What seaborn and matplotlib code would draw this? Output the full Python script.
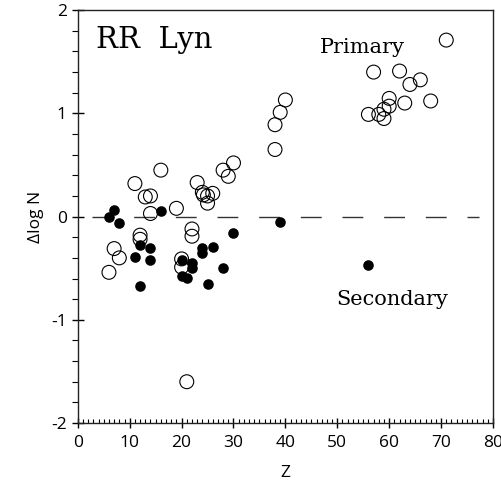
import numpy as np
import pandas as pd
import matplotlib
matplotlib.use("Agg")
import matplotlib.pyplot as plt
from matplotlib.ticker import MultipleLocator
import seaborn as sns

# primary (open circles)
z_prim = [6, 7, 8, 11, 12, 12, 13, 14, 14, 16, 19, 20, 20, 21, 22, 22,
          23, 24, 24.2, 25, 26, 25, 28, 29, 30, 38, 38, 39, 40,
          56, 57, 58, 59, 59, 60, 60, 62, 63, 64, 66, 68, 71]
d_prim = [-0.54, -0.31, -0.40, 0.32, -0.18, -0.22, 0.19, 0.20, 0.03, 0.45, 0.08, -0.41, -0.49, -1.60, -0.12, -0.19,
          0.33, 0.235, 0.21, 0.20, 0.225, 0.13, 0.45, 0.39, 0.52, 0.65, 0.89, 1.01, 1.13,
          0.99, 1.40, 0.99, 1.04, 0.95, 1.07, 1.145, 1.41, 1.10, 1.28, 1.325, 1.12, 1.71]

# secondary (filled circles)
z_sec = [6, 7, 8, 11, 12, 12, 14, 14, 16, 20, 20, 21, 22, 22, 24, 24, 25, 26, 28, 30, 39, 56]
d_sec = [0.0, 0.06, -0.065, -0.39, -0.28, -0.675, -0.305, -0.42, 0.05, -0.42, -0.58, -0.595,
         -0.45, -0.50, -0.30, -0.35, -0.65, -0.29, -0.50, -0.155, -0.05, -0.47]

prim = pd.DataFrame({"Z": z_prim, "dlogN": d_prim})
sec = pd.DataFrame({"Z": z_sec, "dlogN": d_sec})

sns.set_style("ticks")
plt.rcParams["font.family"] = ["Open Sans", "DejaVu Sans"]
plt.rcParams["axes.unicode_minus"] = False
plt.rcParams["text.color"] = "black"
plt.rcParams["axes.labelcolor"] = "black"
plt.rcParams["xtick.color"] = "black"
plt.rcParams["ytick.color"] = "black"

fig = plt.figure(figsize=(5.02, 4.84), dpi=100)
ax = fig.add_axes([0.155, 0.126, 0.827, 0.853])

ax.hlines(0, 2.75, 77.3, colors="#333333", linewidth=1.0, linestyles=(0, (15, 15)))

sns.scatterplot(data=prim, x="Z", y="dlogN", ax=ax, s=100, facecolor="none",
                edgecolor="black", linewidth=0.8, zorder=3)
sns.scatterplot(data=sec, x="Z", y="dlogN", ax=ax, s=58, color="black",
                edgecolor="black", linewidth=0, zorder=4)

ax.set_xlim(0, 80)
ax.set_ylim(-2, 2)
ax.xaxis.set_major_locator(MultipleLocator(10))
ax.xaxis.set_minor_locator(MultipleLocator(1))
ax.yaxis.set_major_locator(MultipleLocator(1))
ax.yaxis.set_minor_locator(MultipleLocator(0.2))
ax.tick_params(axis="x", which="major", direction="inout", length=7, width=1, labelsize=12.5, pad=5)
ax.tick_params(axis="x", which="minor", direction="in", length=3, width=0.8)
ax.tick_params(axis="y", which="major", direction="inout", length=8, width=1, labelsize=12.5, pad=4)
ax.tick_params(axis="y", which="minor", direction="out", length=4.5, width=0.8)
for sp in ax.spines.values():
    sp.set_linewidth(1.0)
    sp.set_color("#222222")

ax.set_xlabel("Z", fontsize=12.5, labelpad=10)
ax.set_ylabel("\u0394log N", fontsize=12.5, labelpad=5)

serif = ["DejaVu Serif"]
ax.text(3.6, 1.71, "RR  Lyn", family=serif, fontsize=21, va="center", ha="left")
ax.text(46.6, 1.64, "Primary", family=serif, fontsize=15, va="center", ha="left")
ax.text(49.8, -0.8, "Secondary", family=serif, fontsize=15, va="center", ha="left")

fig.savefig("out.png", dpi=100)
